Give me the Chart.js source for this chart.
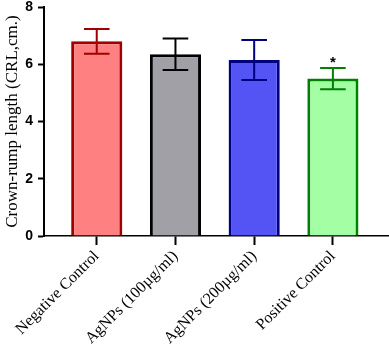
<!DOCTYPE html>
<html>
<head>
<meta charset="utf-8">
<script src="https://cdn.jsdelivr.net/npm/chart.js@4.4.1/dist/chart.umd.min.js"></script>
<style>
  html, body { margin: 0; padding: 0; background: #fff; }
  #wrap { width: 389px; height: 346px; }
</style>
</head>
<body>
<div id="wrap"><canvas id="crl-chart"></canvas></div>
<script>
// values
const groups = ['Negative Control', 'AgNPs (100µg/ml)', 'AgNPs (200µg/ml)', 'Positive Control'];
const means = [6.8, 6.35, 6.15, 5.5];
const errors = [0.43, 0.55, 0.7, 0.37];
const marks = ['', '', '', '*'];
const yTicks = [0, 2, 4, 6, 8];

const fills = ['#ff8080', '#a0a0a6', '#5454f4', '#a4ffa4'];
const borders = ['#a00000', '#000000', '#000080', '#008000'];

// error bars + significance marks
const errorBars = {
  id: 'errorBars',
  afterDatasetsDraw(chart) {
    const ctx = chart.ctx;
    const y = chart.scales.y;
    const meta = chart.getDatasetMeta(0);
    meta.data.forEach((bar, i) => {
      const top = y.getPixelForValue(means[i] + errors[i]);
      const bot = y.getPixelForValue(means[i] - errors[i]);
      const cap = bar.width * 0.25;
      ctx.save();
      ctx.strokeStyle = borders[i];
      ctx.lineWidth = 2;
      ctx.beginPath();
      ctx.moveTo(bar.x, top); ctx.lineTo(bar.x, bot);
      ctx.moveTo(bar.x - cap, top); ctx.lineTo(bar.x + cap, top);
      ctx.moveTo(bar.x - cap, bot); ctx.lineTo(bar.x + cap, bot);
      ctx.stroke();
      if (marks[i]) {
        ctx.fillStyle = '#000';
        ctx.font = 'bold 15px "Liberation Sans", Arial, sans-serif';
        ctx.textAlign = 'center';
        ctx.textBaseline = 'alphabetic';
        ctx.fillText(marks[i], bar.x, top - 1);
      }
      ctx.restore();
    });
  }
};

const canvas = document.getElementById('crl-chart');
new Chart(canvas.getContext('2d'), {
  type: 'bar',
  data: {
    datasets: [{
      data: means.map((v, i) => ({ x: i, y: v })),
      backgroundColor: fills,
      borderColor: borders,
      borderWidth: 3,
      borderSkipped: 'bottom',
      barPercentage: 0.65,
      categoryPercentage: 1
    }]
  },
  options: {
    responsive: true,
    maintainAspectRatio: false,
    animation: false,
    layout: { padding: { top: 7, right: 1, left: 0, bottom: 0 } },
    plugins: { legend: { display: false }, tooltip: { enabled: false } },
    scales: {
      x: {
        type: 'linear',
        offset: false,
        min: -0.67,
        max: 3.7,
        afterBuildTicks: (scale) => { scale.ticks = groups.map((g, i) => ({ value: i })); },
        afterFit: (scale) => { scale.height = 110; scale.paddingLeft = 0; scale.paddingRight = 0; },
        grid: { offset: false, drawOnChartArea: false, drawTicks: true, tickLength: 9, tickColor: '#000', tickWidth: 2 },
        border: { color: '#000', width: 1.5 },
        ticks: {
          autoSkip: false,
          minRotation: 45,
          maxRotation: 45,
          padding: 2,
          color: '#000',
          font: { family: '"Liberation Serif", "Times New Roman", serif', size: 16 },
          callback: (v) => groups[v]
        }
      },
      y: {
        min: 0,
        max: 8,
        afterBuildTicks: (scale) => { scale.ticks = yTicks.map(v => ({ value: v })); },
        afterFit: (scale) => { scale.width = 44; scale.paddingTop = 0; scale.paddingBottom = 0; },
        grid: { drawOnChartArea: false, drawTicks: true, tickLength: 6, tickColor: '#000', tickWidth: 2 },
        border: { color: '#000', width: 2 },
        ticks: {
          padding: 5,
          color: '#000',
          font: { family: '"Liberation Sans", Arial, sans-serif', size: 14, weight: 'bold' }
        },
        title: {
          display: true,
          text: 'Crown-rump length (CRL,cm.)',
          color: '#000',
          padding: { top: 2, bottom: 0 },
          font: { family: '"Liberation Serif", "Times New Roman", serif', size: 17 }
        }
      }
    }
  },
  plugins: [errorBars]
});
</script>
</body>
</html>
